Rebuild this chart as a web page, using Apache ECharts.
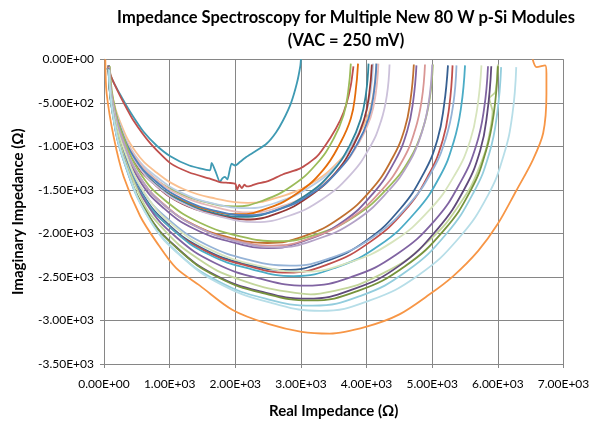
<!DOCTYPE html>
<html>
<head>
<meta charset="utf-8">
<script src="https://cdn.jsdelivr.net/npm/echarts@6/dist/echarts.min.js"></script>
<style>
  html, body { margin: 0; padding: 0; background: #fff; }
  #main { width: 590px; height: 427px; }
</style>
</head>
<body>
<div id="main"></div>
<script>
// tick labels
var xTicks = ['0.00E+00', '1.00E+03', '2.00E+03', '3.00E+03', '4.00E+03', '5.00E+03', '6.00E+03', '7.00E+03'];
var yTicks = ['0.00E+00', '-5.00E+02', '-1.00E+03', '-1.50E+03', '-2.00E+03', '-2.50E+03', '-3.00E+03', '-3.50E+03'];

// modules: [real, imaginary]
var tealSmall = [[45,-100],[100,-190],[170,-300],[250,-410],[340,-530],[446,-660],[600,-830],[800,-990],[1004,-1110],[1300,-1220],[1613,-1275],[1640,-1190],[1700,-1290],[1766,-1410],[1800,-1370],[1842,-1350],[1880,-1380],[1943,-1200],[2000,-1220],[2070,-1180],[2172,-1120],[2300,-1060],[2476,-970],[2620,-840],[2729,-700],[2850,-500],[2940,-270],[2990,-80],[3000,0]];
var redNoisy = [[60,-80],[120,-220],[200,-350],[300,-500],[446,-700],[700,-960],[1004,-1190],[1300,-1300],[1613,-1371],[1766,-1410],[1900,-1420],[2000,-1430],[2030,-1500],[2060,-1440],[2100,-1480],[2140,-1440],[2172,-1460],[2250,-1450],[2324,-1430],[2500,-1400],[2729,-1320],[2983,-1256],[3237,-1122],[3450,-900],[3600,-700],[3694,-510],[3760,-300],[3800,-80]];
var salmon1 = [[70,-70],[110,-360],[230,-690],[480,-1060],[800,-1300],[1210,-1490],[1700,-1600],[2190,-1650],[2680,-1580],[3170,-1420],[3580,-1170],[3860,-890],[4030,-630],[4110,-360],[4150,-50]];
var green1 = [[70,-70],[110,-370],[220,-710],[440,-1080],[730,-1340],[1100,-1520],[1550,-1640],[1990,-1690],[2430,-1620],[2870,-1450],[3240,-1200],[3500,-910],[3650,-640],[3720,-370],[3760,-50]];
var blueGray1 = [[70,-70],[110,-380],[230,-720],[470,-1100],[800,-1350],[1200,-1540],[1680,-1660],[2170,-1710],[2650,-1640],[3130,-1470],[3540,-1220],[3820,-930],[3980,-650],[4060,-380],[4100,-50]];
var pink1 = [[70,-70],[110,-390],[230,-740],[480,-1120],[810,-1390],[1220,-1580],[1710,-1700],[2210,-1760],[2700,-1690],[3190,-1510],[3600,-1250],[3890,-950],[4060,-670],[4140,-390],[4180,-50]];
var orange1 = [[70,-70],[110,-390],[220,-750],[450,-1140],[750,-1410],[1130,-1600],[1590,-1730],[2050,-1780],[2500,-1710],[2960,-1530],[3340,-1270],[3600,-960],[3760,-680],[3830,-390],[3870,-50]];
var teal1 = [[70,-70],[110,-400],[230,-760],[470,-1160],[780,-1430],[1180,-1630],[1650,-1760],[2130,-1810],[2600,-1740],[3080,-1560],[3480,-1290],[3750,-980],[3910,-690],[3990,-400],[4030,-50]];
var darkRed1 = [[70,-70],[110,-400],[230,-770],[470,-1180],[790,-1450],[1190,-1660],[1670,-1780],[2160,-1840],[2640,-1770],[3120,-1580],[3520,-1310],[3800,-990],[3960,-700],[4040,-400],[4080,-60]];
var lavender1 = [[70,-70],[110,-410],[240,-790],[500,-1200],[840,-1480],[1270,-1680],[1780,-1810],[2300,-1870],[2810,-1800],[3320,-1610],[3750,-1330],[4050,-1010],[4220,-710],[4310,-410],[4350,-60]];
var blue1 = [[70,-70],[110,-390],[230,-750],[480,-1150],[800,-1410],[1210,-1610],[1700,-1740],[2190,-1790],[2680,-1720],[3170,-1540],[3580,-1270],[3860,-970],[4030,-680],[4110,-390],[4150,-50]];
var brown2 = [[70,-80],[120,-460],[260,-890],[540,-1350],[910,-1670],[1370,-1900],[1930,-2050],[2490,-2110],[3050,-2030],[3600,-1820],[4070,-1500],[4390,-1140],[4580,-800],[4670,-460],[4720,-60]];
var green2 = [[90,-80],[140,-460],[290,-880],[580,-1340],[980,-1650],[1470,-1880],[2060,-2030],[2650,-2090],[3240,-2010],[3830,-1800],[4320,-1480],[4670,-1130],[4860,-790],[4960,-460],[5010,-60]];
var purple2 = [[70,-90],[120,-480],[260,-910],[540,-1390],[910,-1710],[1380,-1950],[1950,-2100],[2510,-2170],[3070,-2080],[3630,-1870],[4100,-1540],[4430,-1170],[4620,-820],[4710,-480],[4760,-70]];
var pink2 = [[80,-90],[130,-470],[270,-900],[560,-1370],[950,-1690],[1430,-1930],[2000,-2080],[2580,-2140],[3160,-2050],[3730,-1840],[4210,-1520],[4550,-1160],[4740,-810],[4840,-470],[4890,-60]];
var lavender2 = [[80,-90],[130,-480],[280,-910],[570,-1380],[970,-1710],[1460,-1940],[2050,-2100],[2640,-2160],[3230,-2070],[3820,-1860],[4310,-1530],[4660,-1170],[4850,-820],[4950,-480],[5000,-60]];
var darkBlue3 = [[70,-100],[120,-530],[280,-1020],[590,-1550],[1000,-1910],[1520,-2180],[2140,-2350],[2760,-2420],[3380,-2320],[4000,-2080],[4510,-1720],[4870,-1310],[5080,-920],[5180,-530],[5240,-70]];
var red3 = [[70,-100],[120,-540],[280,-1030],[590,-1570],[1010,-1930],[1540,-2200],[2170,-2370],[2800,-2450],[3430,-2350],[4050,-2100],[4580,-1740],[4950,-1320],[5160,-930],[5260,-540],[5310,-70]];
var lightBlue3 = [[70,-100],[120,-520],[280,-1000],[600,-1520],[1030,-1870],[1560,-2130],[2190,-2300],[2830,-2370],[3460,-2280],[4100,-2040],[4630,-1680],[5000,-1280],[5210,-900],[5320,-520],[5370,-70]];
var teal3 = [[70,-100],[120,-550],[290,-1040],[610,-1590],[1050,-1960],[1590,-2240],[2240,-2410],[2890,-2490],[3540,-2390],[4190,-2140],[4740,-1760],[5120,-1340],[5330,-940],[5440,-550],[5500,-70]];
var lightGreen3 = [[70,-100],[130,-540],[300,-1020],[640,-1560],[1090,-1930],[1660,-2200],[2340,-2370],[3020,-2440],[3710,-2340],[4390,-2100],[4960,-1730],[5350,-1320],[5580,-930],[5690,-540],[5750,-70]];
var purple4 = [[70,-100],[130,-570],[300,-1090],[650,-1660],[1110,-2050],[1690,-2340],[2380,-2520],[3070,-2600],[3770,-2500],[4460,-2240],[5040,-1850],[5440,-1400],[5670,-990],[5790,-570],[5850,-80]];
var lightGreen4 = [[70,-110],[130,-590],[310,-1130],[660,-1730],[1140,-2130],[1730,-2430],[2440,-2620],[3150,-2700],[3870,-2590],[4580,-2320],[5170,-1920],[5590,-1460],[5820,-1030],[5920,-600],[5870,-450],[5960,-380],[5990,-200],[6000,-60]];
var darkPurple4 = [[70,-110],[130,-610],[300,-1160],[650,-1760],[1120,-2170],[1700,-2480],[2400,-2670],[3100,-2750],[3800,-2640],[4500,-2370],[5080,-1950],[5490,-1490],[5730,-1050],[5840,-610],[5900,-80]];
var olive4 = [[70,-110],[130,-610],[310,-1160],[660,-1770],[1140,-2190],[1730,-2500],[2440,-2690],[3150,-2770],[3870,-2660],[4580,-2380],[5170,-1970],[5590,-1500],[5820,-1050],[5940,-610],[6000,-80]];
var lightBlue4 = [[70,-110],[130,-620],[310,-1190],[670,-1810],[1150,-2240],[1740,-2550],[2460,-2750],[3180,-2830],[3900,-2720],[4620,-2430],[5210,-2010],[5630,-1530],[5870,-1080],[5990,-620],[6050,-90]];
var paleBlue4 = [[80,-120],[140,-640],[330,-1210],[700,-1850],[1200,-2280],[1820,-2600],[2560,-2800],[3300,-2890],[4050,-2770],[4790,-2480],[5410,-2050],[5850,-1560],[6090,-1100],[6220,-640],[6280,-90]];
var orangeBig = [[20,0],[40,-390],[150,-900],[300,-1350],[550,-1800],[800,-2100],[1100,-2400],[1460,-2600],[1960,-2880],[2500,-3040],[3010,-3130],[3440,-3150],[4000,-3070],[4500,-2930],[4960,-2700],[5320,-2490],[5700,-2200],[6000,-1890],[6280,-1510],[6530,-1160],[6690,-850],[6740,-400],[6740,-160],[6720,-70],[6590,-90],[6530,0]];

var curves = [
  ['teal small', tealSmall, '#3F9AB3', 0.2],
  ['red', redNoisy, '#C0504D', 0.2],
  ['salmon', salmon1, '#FAC090', 0.45],
  ['green', green1, '#9BBB59', 0.45],
  ['blue gray', blueGray1, '#B9CDE5', 0.45],
  ['pink', pink1, '#E6B9B8', 0.45],
  ['orange', orange1, '#E46C0A', 0.45],
  ['teal', teal1, '#31859C', 0.45],
  ['dark red', darkRed1, '#953735', 0.45],
  ['lavender', lavender1, '#CCC1DA', 0.45],
  ['blue', blue1, '#4F81BD', 0.45],
  ['brown', brown2, '#C07030', 0.45],
  ['green 2', green2, '#9BBB59', 0.45],
  ['purple 2', purple2, '#8064A2', 0.45],
  ['pink 2', pink2, '#D99694', 0.45],
  ['lavender 2', lavender2, '#B3A2C7', 0.45],
  ['dark blue', darkBlue3, '#376092', 0.45],
  ['red 3', red3, '#C0504D', 0.45],
  ['light blue 3', lightBlue3, '#95B3D7', 0.45],
  ['teal 3', teal3, '#4BACC6', 0.45],
  ['light green 3', lightGreen3, '#D7E4BD', 0.45],
  ['purple 4', purple4, '#8064A2', 0.45],
  ['light green 4', lightGreen4, '#C3D69B', 0.2],
  ['dark purple', darkPurple4, '#604A7B', 0.45],
  ['olive', olive4, '#77933C', 0.45],
  ['light blue 4', lightBlue4, '#93CDDD', 0.45],
  ['pale blue', paleBlue4, '#B7DEE8', 0.45],
  ['orange big', orangeBig, '#F79646', 0.3]
];

var font = 'Lato, "Open Sans", sans-serif';
var chart = echarts.init(document.getElementById('main'));
chart.setOption({
  animation: false,
  backgroundColor: '#fff',
  title: {
    text: 'Impedance Spectroscopy for Multiple New 80 W p-Si Modules\n(VAC = 250 mV)',
    left: 341, top: 1, textAlign: 'center',
    textStyle: { fontFamily: font, fontSize: 16.5, fontWeight: 'bold', color: '#000', lineHeight: 23 }
  },
  grid: { left: 104, right: 26.5, top: 59.3, bottom: 63, containLabel: false, outerBoundsMode: 'none' },
  xAxis: {
    type: 'value', min: 0, max: 7000, interval: 1000,
    name: 'Real Impedance (Ω)', nameLocation: 'middle', nameGap: 40,
    nameTextStyle: { fontFamily: font, fontSize: 15, fontWeight: 'bold', color: '#000' },
    axisLine: { onZero: false, lineStyle: { color: '#868686' } },
    axisTick: { show: true, length: 4, lineStyle: { color: '#868686' } },
    axisLabel: { fontFamily: font, fontSize: 12, color: '#000', margin: 14,
      formatter: function (v) { return xTicks[Math.round(v / 1000)]; } },
    splitLine: { show: true, lineStyle: { color: '#868686', width: 1 } }
  },
  yAxis: {
    type: 'value', min: -3500, max: 0, interval: 500,
    name: 'Imaginary Impedance (Ω)', nameLocation: 'middle', nameGap: 78, nameRotate: 90,
    nameTextStyle: { fontFamily: font, fontSize: 15, fontWeight: 'bold', color: '#000' },
    axisLine: { show: true, onZero: false, lineStyle: { color: '#868686' } },
    axisTick: { show: true, length: 4, lineStyle: { color: '#868686' } },
    axisLabel: { fontFamily: font, fontSize: 12, color: '#000', margin: 10,
      formatter: function (v) { return yTicks[Math.round(-v / 500)]; } },
    splitLine: { show: true, lineStyle: { color: '#868686', width: 1 } }
  },
  series: curves.map(function (c) {
    return {
      name: c[0], type: 'line', data: c[1], showSymbol: false,
      smooth: c[3],
      lineStyle: { color: c[2], width: 1.8 },
      itemStyle: { color: c[2] }
    };
  })
});
</script>
</body>
</html>
